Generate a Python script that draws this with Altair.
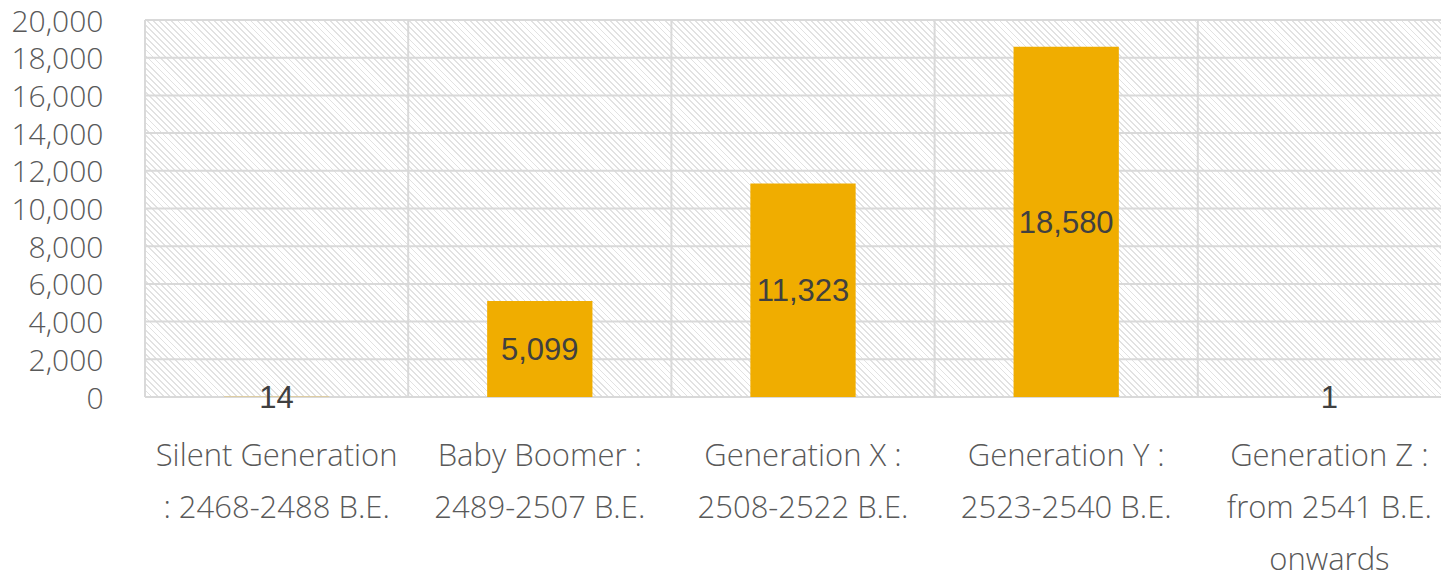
import altair as alt
import pandas as pd

categories = [
    "Silent Generation\n: 2468-2488 B.E.",
    "Baby Boomer :\n2489-2507 B.E.",
    "Generation X :\n2508-2522 B.E.",
    "Generation Y :\n2523-2540 B.E.",
    "Generation Z :\nfrom 2541 B.E.\nonwards",
]
values = [14, 5099, 11323, 18580, 1]
y_ticks = [0, 2000, 4000, 6000, 8000, 10000, 12000, 14000, 16000, 18000, 20000]

W, H = 1316, 377
AXIS_FONT = "Open Sans"

df = pd.DataFrame({"cat": categories, "value": values})
ticks_df = pd.DataFrame({"t": y_ticks})

# diagonal hatch background built from a striped linear gradient
r = H / W
k = (1 + r) / (1 + r * r)
length_px = (W + H) / 2 ** 0.5
n = int(round(length_px / 4.3))
stops = []
for i in range(n):
    a, b, c = i / n, (i + 0.3) / n, (i + 1) / n
    stops += [
        alt.GradientStop(color="#e2e2e2", offset=a),
        alt.GradientStop(color="#e2e2e2", offset=b),
        alt.GradientStop(color="#ffffff", offset=b),
        alt.GradientStop(color="#ffffff", offset=c),
    ]
hatch = alt.LinearGradient(gradient="linear", stops=stops,
                           x1=0, y1=1, x2=k, y2=1 - k * r)

xscale = alt.Scale(paddingInner=0, paddingOuter=0)
yscale = alt.Scale(domain=[0, 20000])
yaxis = alt.Axis(title=None, values=y_ticks, format=",.0f", ticks=False, domain=False,
                 grid=False, labelFont=AXIS_FONT, labelFontSize=30, labelFontWeight=300,
                 labelColor="#595959", labelPadding=42, labelOverlap=False, labelOffset=2)
xaxis = alt.Axis(title=None, labelAngle=0, labelAlign="center", ticks=False, domain=False,
                 grid=False, labelExpr="split(datum.label, '\\n')",
                 labelFont=AXIS_FONT, labelFontSize=31, labelFontWeight=300,
                 labelColor="#595959", labelLineHeight=52, labelPadding=44, labelLimit=400)

bg = alt.Chart(ticks_df).mark_rect(fill=hatch).encode(
    y=alt.Y("min(t):Q", scale=yscale, axis=yaxis), y2=alt.Y2("max(t):Q")
)

hrules = alt.Chart(ticks_df).mark_rule(color="#d9d9d9", strokeWidth=2).encode(
    y=alt.Y("t:Q", scale=yscale, axis=yaxis)
)

vrules = alt.Chart(df).mark_rule(color="#d9d9d9", strokeWidth=2).encode(
    x=alt.X("cat:N", sort=categories, scale=xscale, bandPosition=0, axis=xaxis)
)

bars = alt.Chart(df).mark_bar(color="#F0AD00", width=alt.RelativeBandSize(0.4)).encode(
    x=alt.X("cat:N", sort=categories, scale=xscale, axis=xaxis),
    y=alt.Y("value:Q", scale=yscale, axis=yaxis),
)

labels = alt.Chart(df).transform_calculate(mid="datum.value / 2").mark_text(
    font="Liberation Sans", fontSize=31, color="#404040", baseline="middle", dy=2
).encode(
    x=alt.X("cat:N", sort=categories, scale=xscale, axis=xaxis),
    y=alt.Y("mid:Q", scale=yscale, axis=yaxis),
    text=alt.Text("value:Q", format=","),
)

chart = alt.layer(bg, hrules, vrules, bars, labels).properties(
    width=W, height=H,
    padding={"left": 137, "top": 12, "right": -20, "bottom": 173},
    autosize=alt.AutoSizeParams(type="none"),
).configure_view(stroke=None)

chart.save("out.html", embed_options={"renderer": "svg", "actions": False})
